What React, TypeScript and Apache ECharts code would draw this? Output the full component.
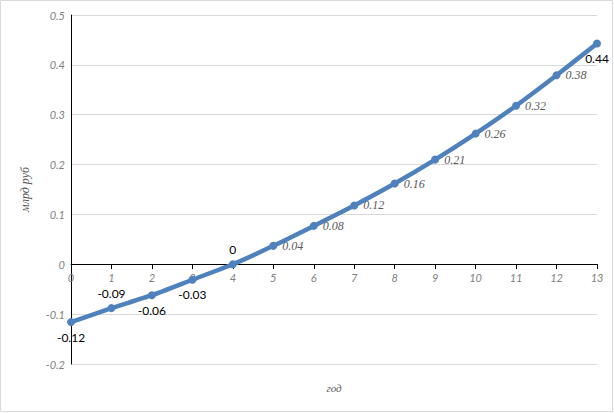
import React, { useEffect, useRef } from "react";
import * as echarts from "echarts";

const years = [0, 1, 2, 3, 4, 5, 6, 7, 8, 9, 10, 11, 12, 13];
const values = [-0.116, -0.088, -0.062, -0.031, 0, 0.037, 0.077, 0.118, 0.162, 0.21, 0.262, 0.318, 0.379, 0.443];
const yAxisTitle = "млрд руб";
const xAxisTitle = "год";

const blackLabelIdx: Record<number, string> = { 0: "bottom", 1: "top", 2: "bottom", 3: "bottom", 4: "top", 13: "bottom" };

function fmt(v: number) {
  return String(parseFloat(v.toFixed(2)));
}

export default function App() {
  const ref = useRef<HTMLDivElement>(null);
  useEffect(() => {
    if (!ref.current) return;
    const chart = echarts.init(ref.current, null, { renderer: "svg" });
    const data = years.map((x, i) => {
      const pos = blackLabelIdx[i];
      const label = pos
        ? {
            show: true,
            position: pos,
            distance: 5,
            color: "#000",
            fontFamily: "Lato",
            fontStyle: "normal",
            fontSize: 12,
            formatter: () => fmt(values[i]),
          }
        : {
            show: true,
            position: "right",
            distance: 5,
            color: "#595959",
            fontFamily: "Liberation Serif",
            fontStyle: "italic",
            fontSize: 12,
            formatter: () => fmt(values[i]),
          };
      return { value: [x, values[i]], label };
    });
    chart.setOption({
      animation: false,
      backgroundColor: "#fff",
      grid: { left: 71, right: 17, top: 15, bottom: 49, containLabel: false, outerBoundsMode: "none" },
      graphic: [
        {
          type: "rect",
          shape: { x: 0.5, y: 0.5, width: 612, height: 411 },
          style: { fill: "none", stroke: "#d9d9d9", lineWidth: 1 },
          silent: true,
          z: -1,
        },
      ],
      xAxis: {
        type: "value",
        min: 0,
        max: 13,
        interval: 1,
        offset: -100,
        name: xAxisTitle,
        nameLocation: "middle",
        nameGap: 118,
        nameTextStyle: { fontFamily: "Liberation Serif", fontStyle: "italic", fontSize: 11, color: "#595959" },
        axisLine: { onZero: false, lineStyle: { color: "#000", width: 1 } },
        axisTick: { show: true, length: 5, lineStyle: { color: "#000" } },
        axisLabel: { color: "#808080", fontStyle: "italic", fontFamily: "Lato", fontSize: 11, margin: 8 },
        splitLine: { show: false },
      },
      yAxis: {
        type: "value",
        min: -0.2,
        max: 0.5,
        interval: 0.1,
        name: yAxisTitle,
        nameLocation: "middle",
        nameGap: 40,
        nameRotate: 90,
        nameTextStyle: { fontFamily: "Liberation Serif", fontStyle: "italic", fontSize: 12, color: "#595959" },
        axisLine: { show: true, onZero: false, lineStyle: { color: "#000", width: 1 } },
        axisTick: { show: false },
        axisLabel: {
          color: "#808080",
          fontStyle: "italic",
          fontFamily: "Lato",
          fontSize: 11,
          margin: 6,
          formatter: (v: number) => (Math.abs(v) < 1e-9 ? "0" : v.toFixed(1)),
        },
        splitLine: { show: true, lineStyle: { color: "#d9d9d9", width: 1 } },
      },
      series: [
        {
          type: "line",
          data,
          smooth: 0.2,
          symbol: "circle",
          symbolSize: 8,
          lineStyle: { color: "#4f81bd", width: 4.5 },
          itemStyle: { color: "#4f81bd" },
        },
      ],
    });
    return () => chart.dispose();
  }, []);
  return <div ref={ref} style={{ position: "fixed", left: 0, top: 0, width: 614, height: 413 }} />;
}
